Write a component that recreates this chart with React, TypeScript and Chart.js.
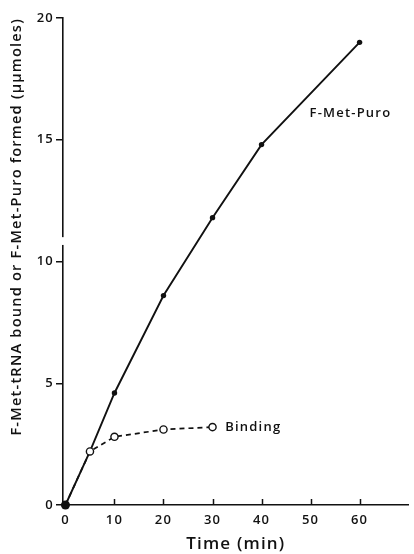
import React, { useEffect, useRef } from "react";
import { Chart, registerables } from "chart.js";

Chart.register(...registerables);

const puroTime = [0, 5, 10, 20, 30, 40, 60];
const puroValues = [0, 2.2, 4.6, 8.6, 11.8, 14.8, 19.0];
const bindingTime = [0, 5, 10, 20, 30];
const bindingValues = [0, 2.2, 2.8, 3.1, 3.2];
const xTickValues = [0, 10, 20, 30, 40, 50, 60];
const yTickValues = [0, 5, 10, 15, 20];
const puroLabel = "F-Met-Puro";
const bindingLabel = "Binding";
const xTitle = "Time (min)";
const yTitle = "F-Met-tRNA bound or F-Met-Puro formed (\u03bc\u03bcmoles)";

const FONT = "'Open Sans', 'DejaVu Sans', sans-serif";
const W = "600";
const INK = "#111";
const SPACING = "1.2px";

export default function App() {
  const ref = useRef<HTMLCanvasElement | null>(null);

  useEffect(() => {
    document.body.style.margin = "0";
    const canvas = ref.current;
    if (!canvas) return;

    const spacing = {
      id: "spacing",
      beforeUpdate(chart: any) {
        chart.ctx.letterSpacing = SPACING;
      },
      beforeLayout(chart: any) {
        chart.ctx.letterSpacing = SPACING;
      },
      beforeDraw(chart: any) {
        chart.ctx.letterSpacing = SPACING;
      },
    };

    const decor = {
      id: "decor",
      afterDraw(chart: any) {
        const ctx = chart.ctx;
        const xs = chart.scales.x;
        const ys = chart.scales.y;
        const area = chart.chartArea;
        ctx.save();
        ctx.strokeStyle = INK;
        ctx.lineWidth = 1.5;
        xTickValues.forEach((v) => {
          if (v === 0) return;
          const px = Math.round(xs.getPixelForValue(v)) + 0.5;
          ctx.beginPath();
          ctx.moveTo(px, area.bottom);
          ctx.lineTo(px, area.bottom - 6);
          ctx.stroke();
        });
        const yTop = ys.getPixelForValue(11.0);
        const yBot = ys.getPixelForValue(10.68);
        ctx.fillStyle = "#fff";
        ctx.fillRect(area.left - 3, yTop, 6, yBot - yTop);
        ctx.fillStyle = INK;
        ctx.letterSpacing = "1.2px";
        ctx.font = `${W} 13px ${FONT}`;
        ctx.textBaseline = "middle";
        ctx.textAlign = "left";
        ctx.fillText(puroLabel, xs.getPixelForValue(49.8), ys.getPixelForValue(16.1));
        ctx.fillText(bindingLabel, xs.getPixelForValue(32.6), ys.getPixelForValue(3.18));
        ctx.restore();
      },
    };

    const chart = new Chart(canvas, {
      type: "line",
      data: {
        datasets: [
          {
            label: puroLabel,
            data: puroTime.map((t, i) => ({ x: t, y: puroValues[i] })),
            borderColor: INK,
            backgroundColor: INK,
            borderWidth: 1.9,
            pointRadius: puroTime.map((t) => (t === 0 ? 4.5 : t === 5 ? 0 : 2.7)),
            pointBorderWidth: 0,
            pointBackgroundColor: INK,
            tension: 0,
            clip: false,
            order: 2,
          },
          {
            label: bindingLabel,
            data: bindingTime.map((t, i) => ({ x: t, y: bindingValues[i] })),
            borderColor: INK,
            backgroundColor: "#fff",
            borderWidth: 1.7,
            borderDash: [5, 4],
            pointRadius: bindingTime.map((t) => (t === 0 ? 0 : 3.6)),
            pointBorderWidth: 1.4,
            pointBorderColor: INK,
            pointBackgroundColor: "#fff",
            tension: 0,
            clip: false,
            order: 1,
          },
        ],
      },
      plugins: [spacing, decor],
      options: {
        responsive: false,
        animation: false,
        layout: { padding: { top: 18, right: 0, left: 0, bottom: 0 } },
        plugins: { legend: { display: false }, tooltip: { enabled: false } },
        scales: {
          x: {
            type: "linear",
            min: -0.5,
            max: 70,
            afterBuildTicks: (s: any) => {
              s.ticks = xTickValues.map((v) => ({ value: v }));
            },
            afterFit: (s: any) => {
              s.height = 49;
            },
            grid: { display: true, drawOnChartArea: false, drawTicks: false },
            border: { display: true, color: INK, width: 1.6 },
            ticks: {
              color: INK,
              font: { family: FONT, size: 13, weight: W },
              padding: 7,
              maxRotation: 0,
            },
            title: {
              display: true,
              text: xTitle,
              color: INK,
              font: { family: FONT, size: 17, weight: W },
              padding: { top: 0, bottom: 0 },
            },
          },
          y: {
            type: "linear",
            min: 0,
            max: 20,
            afterBuildTicks: (s: any) => {
              s.ticks = yTickValues.map((v) => ({ value: v }));
            },
            afterFit: (s: any) => {
              s.width = 63;
            },
            grid: {
              display: true,
              drawOnChartArea: false,
              drawTicks: true,
              tickLength: 7,
              color: INK,
              lineWidth: 1.5,
            },
            border: { display: true, color: INK, width: 1.6 },
            ticks: {
              color: INK,
              font: { family: FONT, size: 13, weight: W },
              padding: 2,
            },
            title: {
              display: true,
              text: yTitle,
              color: INK,
              align: "end",
              font: { family: FONT, size: 14.6, weight: W },
              padding: { top: 8, bottom: 0 },
            },
          },
        },
      },
    } as any);

    return () => chart.destroy();
  }, []);

  return (
    <div style={{ width: 414, height: 554 }}>
      <canvas ref={ref} width={414} height={554} style={{ display: "block" }} />
    </div>
  );
}
